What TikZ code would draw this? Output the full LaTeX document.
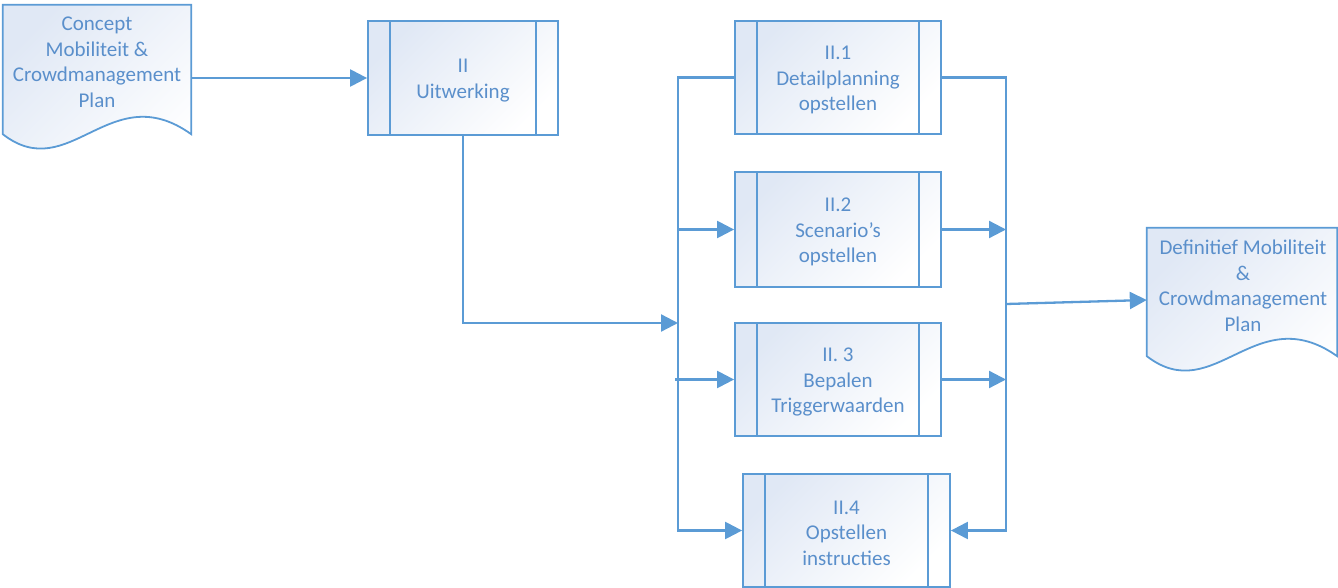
\documentclass[tikz,border=0pt]{standalone}
\usepackage{fontspec}
\setmainfont{Carlito}
\usetikzlibrary{arrows.meta,calc}
\definecolor{lineblue}{HTML}{5B9BD5}
\definecolor{textblue}{HTML}{5A8FCB}
\definecolor{fillblue}{HTML}{E0E8F5}
\begin{document}
\begin{tikzpicture}[x=1pt,y=-1pt,
  lbl/.style={text=textblue, font=\fontsize{21}{25.5}\selectfont, align=center, inner sep=0pt},
  procbox/.style={draw=lineblue, line width=1.8pt, top color=fillblue, bottom color=white, shading angle=45,
    inner sep=0pt, minimum width=#1},
  procbox/.default=206pt,
  docbody/.style={inner sep=0pt, minimum width=#1},
  docfill/.style={draw=lineblue, line width=1.8pt, top color=fillblue, bottom color=white, shading angle=45},
  boxline/.style={draw=lineblue, line width=1.8pt},
  conn/.style={draw=lineblue, line width=2.3pt},
  arrowconn/.style={conn, -{Triangle[length=17pt,width=17pt]}}
]
\useasboundingbox (0,0) rectangle (1338,588);

\newcommand\innerlines[2]{%
  \draw[boxline] ($(#1.north west)+(#2,0)$) -- ($(#1.south west)+(#2,0)$);
  \draw[boxline] ($(#1.north east)-(#2,0)$) -- ($(#1.south east)-(#2,0)$);}

% document shapes
\node[docbody=188pt, minimum height=129pt] (d1) at (97,69.5) {};
\path[docfill] (d1.north west) -- (d1.north east) -- (d1.south east)
  .. controls ($(d1.south west)!0.57!(d1.south east)+(0,-58)$) and ($(d1.south west)!0.355!(d1.south east)+(0,52)$) .. (d1.south west) -- cycle;
\node[lbl] (d1t) at (97,62.5) {Concept\\Mobiliteit \&\\Crowdmanagement\\Plan};

\node[docbody=190pt, minimum height=128pt] (d2) at (1242,292) {};
\path[docfill] (d2.north west) -- (d2.north east) -- (d2.south east)
  .. controls ($(d2.south west)!0.57!(d2.south east)+(0,-58)$) and ($(d2.south west)!0.355!(d2.south east)+(0,52)$) .. (d2.south west) -- cycle;
\node[lbl] (d2t) at (1243,286) {Definitief Mobiliteit\\\&\\Crowdmanagement\\Plan};

% process boxes
\node[procbox=190pt, minimum height=114pt] (pII) at (463,78) {};
\innerlines{pII}{23}
\node[lbl] (pIIt) at ($(pII)+(0,2.5)$) {II\\Uitwerking};
\node[procbox, minimum height=113pt] (p1) at (838,77.5) {};
\innerlines{p1}{23}
\node[lbl] (p1t) at ($(p1)+(0,2.5)$) {II.1\\Detailplanning\\opstellen};
\node[procbox, minimum height=115pt] (p2) at (838,229.5) {};
\innerlines{p2}{23}
\node[lbl] (p2t) at ($(p2)+(0,2.5)$) {II.2\\Scenario’s\\opstellen};
\node[procbox, minimum height=113pt] (p3) at (838,379.5) {};
\innerlines{p3}{23}
\node[lbl] (p3t) at ($(p3)+(0,2.5)$) {II. 3\\Bepalen\\Triggerwaarden};
\node[procbox=207pt, minimum height=113pt] (p4) at (846.5,530.5) {};
\innerlines{p4}{23}
\node[lbl] (p4t) at ($(p4)+(0,2.5)$) {II.4\\Opstellen\\instructies};

% bus coordinates
\coordinate (bL) at (678,323);
\coordinate (bLb) at (678,530.5);
\coordinate (bR) at (1006,304);
\coordinate (bRb) at (1006,530.5);

% connectors
\draw[arrowconn] (d1.east |- pII.west) -- (pII.west);
\draw[arrowconn] (pII.south) |- (bL);
\draw[arrowconn] (p1.west) -| (bLb) -- (p4.west);
\draw[arrowconn] (p2.west -| bL) -- (p2.west);
\draw[arrowconn] ($(p3.west -| bL)+(-3,0)$) -- (p3.west);
\draw[arrowconn] (p1.east) -| (bRb) -- (p4.east);
\draw[arrowconn] (p2.east) -- (p2.east -| bR);
\draw[arrowconn] (p3.east) -- (p3.east -| bR);
\draw[arrowconn] (bR) -- ($(d2.west)+(0,8)$);
\end{tikzpicture}
\end{document}
